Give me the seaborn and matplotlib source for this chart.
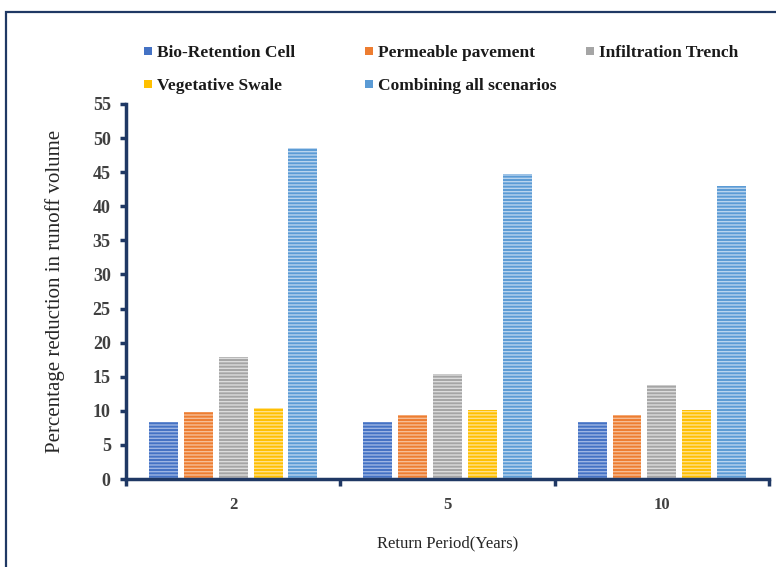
import numpy as np
import pandas as pd
import matplotlib.pyplot as plt
import matplotlib.patches as mpatches
import seaborn as sns

# return periods and scenarios
periods = ["2", "5", "10"]
scenarios = ["Bio-Retention Cell", "Permeable pavement", "Infiltration Trench",
             "Vegetative Swale", "Combining all scenarios"]

bio_retention = [8.4, 8.4, 8.4]
permeable = [9.8, 9.4, 9.4]
infiltration = [17.9, 15.4, 13.8]
vegetative = [10.4, 10.1, 10.1]
combined = [48.5, 44.7, 42.9]

yticks = list(range(0, 56, 5))

colors = ["#4472C4", "#ED7D31", "#A5A5A5", "#FFC000", "#5B9BD5"]
stripes = ["#9DB5E3", "#F6BD95", "#DCDCDC", "#FFE08A", "#B9D4EE"]
navy = "#1F3864"

series = [bio_retention, permeable, infiltration, vegetative, combined]
rows = []
for name, vals in zip(scenarios, series):
    for p, v in zip(periods, vals):
        rows.append({"period": p, "scenario": name, "value": v})
df = pd.DataFrame(rows)

sns.set_theme(style="white")
plt.rcParams["font.family"] = ["Liberation Serif", "DejaVu Serif"]
plt.rcParams["hatch.linewidth"] = 1.0

W, H = 776, 567
fig = plt.figure(figsize=(W / 100, H / 100), dpi=100)
ax = fig.add_axes([0.1624, 0.1552, 0.8286, 0.6614])

sns.barplot(data=df, x="period", y="value", hue="scenario", order=periods,
            hue_order=scenarios, palette=colors, width=0.813, gap=0.17,
            ax=ax, legend=False)

for cont, fc, sc in zip(ax.containers, colors, stripes):
    for bar in cont:
        bar.set_facecolor(fc)
        bar.set_edgecolor(sc)
        bar.set_linewidth(0)
        bar.set_hatch("-----")

ax.set_xlim(-0.5, 2.5)
ax.set_ylim(0, 55)
ax.set_yticks(yticks)
ax.set_yticklabels([str(t) for t in yticks], fontsize=13, fontweight="bold", color="#404040")
ax.set_xticks([0, 1, 2])
ax.set_xticklabels(periods, fontsize=12, fontweight="bold", color="#404040")
ax.set_xticks([-0.5, 0.5, 1.5, 2.5], minor=True)
ax.tick_params(axis="x", which="major", length=0, pad=13)
ax.tick_params(axis="x", which="minor", length=5, width=2.5, color=navy, direction="out", bottom=True)
ax.tick_params(axis="y", length=4, width=2.5, color=navy, direction="out", left=True, pad=7)

for s in ["top", "right"]:
    ax.spines[s].set_visible(False)
for s in ["left", "bottom"]:
    ax.spines[s].set_color(navy)
    ax.spines[s].set_linewidth(2.5)

ax.set_xlabel("Return Period(Years)", fontsize=12, labelpad=16, color="#262626")
ax.set_ylabel("Percentage reduction in runoff volume", fontsize=15, labelpad=20, color="#262626")

# legend: three columns, filled row by row
for i, (name, c) in enumerate(zip(scenarios, colors)):
    col, row = i % 3, i // 3
    x0 = 144 + col * 221
    yc = 51 + row * 33
    fig.patches.append(mpatches.Rectangle((x0 / W, 1 - (yc + 4) / H), 8 / W, 8 / H,
                                          transform=fig.transFigure, facecolor=c,
                                          edgecolor="none"))
    fig.text((x0 + 13) / W, 1 - yc / H, name, ha="left", va="center_baseline",
             fontsize=12.5, fontweight="bold", color="#1a1a1a")

# outer chart frame
frame = mpatches.Rectangle((6 / W, -0.05), 1.0, (H - 12) / H + 0.05,
                           transform=fig.transFigure, fill=False,
                           edgecolor=navy, linewidth=1.6)
fig.patches.append(frame)

fig.savefig("out.png", dpi=100)
